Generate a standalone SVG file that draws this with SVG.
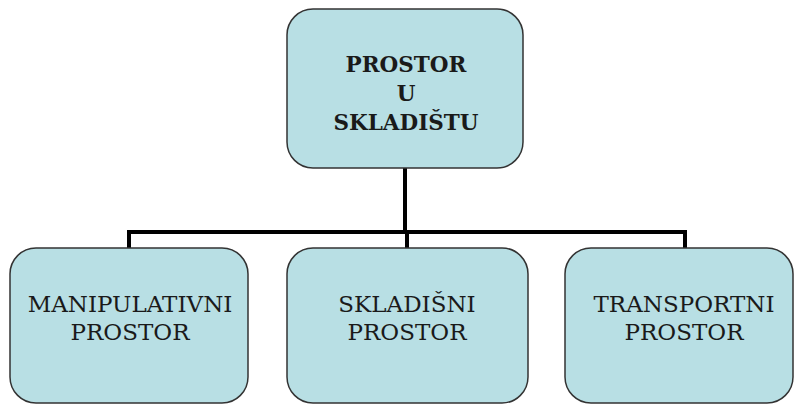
<svg xmlns="http://www.w3.org/2000/svg" width="795" height="405" viewBox="0 0 795 405">
<style>
.box{fill:#b8dfe4;stroke:#333;stroke-width:1.5}
text{font-family:'DejaVu Serif','Liberation Serif',serif;fill:#1a1a1a;text-anchor:middle}
.b{font-weight:bold;font-size:21.5px}
.r{font-size:23px}
.c{fill:none;stroke:#000;stroke-width:4}
</style>
<rect width="795" height="405" fill="#fff"/>
<g id="connectors">
<path class="c" d="M405 168V232"/>
<path class="c" d="M129 248V232H685V248"/>
<path class="c" d="M407 232V248"/>
</g>
<g id="root">
<rect class="box" x="287" y="9" width="236" height="159" rx="26"/>
<text class="b" x="406" y="72">PROSTOR</text>
<text class="b" x="406" y="101">U</text>
<text class="b" x="406" y="130">SKLADIŠTU</text>
</g>
<g id="manipulativni">
<rect class="box" x="10" y="248" width="238" height="155" rx="26"/>
<text class="r" x="130" y="312">MANIPULATIVNI</text>
<text class="r" x="130" y="340">PROSTOR</text>
</g>
<g id="skladisni">
<rect class="box" x="287" y="248" width="241" height="155" rx="26"/>
<text class="r" x="407" y="312">SKLADIŠNI</text>
<text class="r" x="407" y="340">PROSTOR</text>
</g>
<g id="transportni">
<rect class="box" x="565" y="248" width="228" height="155" rx="26"/>
<text class="r" x="684" y="312">TRANSPORTNI</text>
<text class="r" x="684" y="340">PROSTOR</text>
</g>
</svg>
